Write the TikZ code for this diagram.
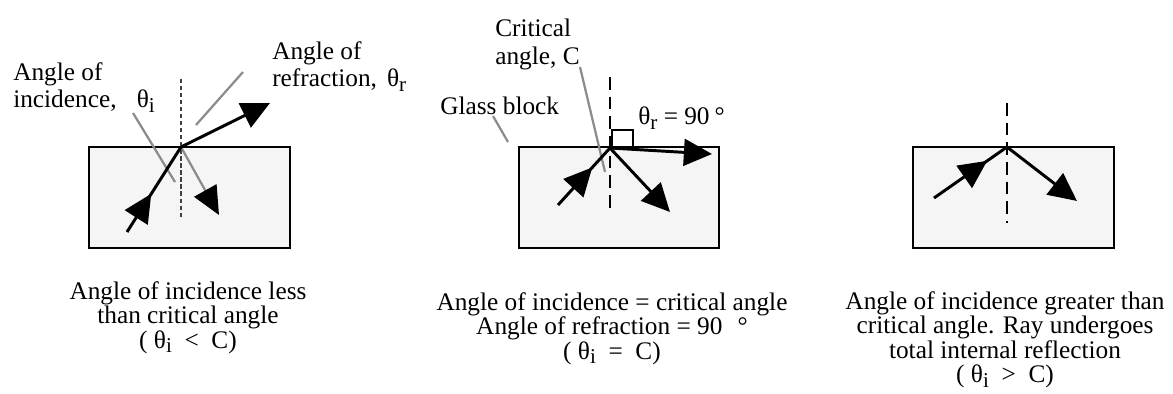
\documentclass[tikz,border=0pt]{standalone}
\usepackage{fontspec}
\setmainfont{Liberation Serif}
\usepackage{tikz}
\usetikzlibrary{arrows.meta, decorations.markings}
\definecolor{glass}{HTML}{F5F5F5}
\definecolor{leadgray}{HTML}{8C8C8C}
\newcommand{\lowsub}[1]{\raisebox{-0.4ex}{\fontsize{15}{15}\selectfont #1}}
\tikzset{
  block/.style={draw=black, line width=1.4pt, fill=glass, inner sep=0pt},
  ray/.style={line width=2.1pt, black},
  tipend/.style={-{Triangle[length=20pt, width=19pt]}},
  midtip/.style={postaction={decorate},
                 decoration={markings, mark=at position #1 with {\arrow{Triangle[length=20pt, width=19pt]}}}},
  normline/.style={line width=1.4pt, dash pattern=on 9pt off 5pt},
  thinnorm/.style={line width=0.8pt, dash pattern=on 3pt off 2pt, black!75},
  leader/.style={leadgray, line width=1.6pt},
  lbl/.style={font=\fontsize{18}{19.5}\selectfont, inner sep=0pt},
  captxt/.style={font=\fontsize{18}{17.4}\selectfont, inner sep=0pt, align=center, anchor=north},
}

\begin{document}
\begin{tikzpicture}[x=0.025cm, y=-0.025cm]
  \useasboundingbox (0,0) rectangle (1173,394);

  % glass blocks
  \node[block, minimum width=5.025cm, minimum height=2.525cm] (blockA) at (189.5,197.5) {};
  \node[block, minimum width=5cm, minimum height=2.525cm] (blockB) at (619,197.5) {};
  \node[block, minimum width=5.025cm, minimum height=2.525cm] (blockC) at (1013.5,197.5) {};

  % less than critical angle
  \coordinate (hitA) at (181,147);
  \coordinate (inA) at (127,232);
  \coordinate (refrA) at (270,103);
  \coordinate (reflA) at (219,215);
  \coordinate (normAtop) at (181,79);
  \coordinate (normAbot) at (181,217);
  \node[lbl, anchor=north west, align=left] (incA) at (13,62) {Angle of\\incidence,\hspace{0.8em}θ\lowsub{i}};
  \node[lbl, anchor=north west, align=left] (refA) at (272,41) {Angle of\\refraction,\hspace{0.4em}θ\lowsub{r}};
  \coordinate (incAleadA) at (133,113);
  \coordinate (incAleadB) at (175,182);
  \coordinate (refAleadA) at (243,72);
  \coordinate (refAleadB) at (196,125);
  \draw[thinnorm] (normAtop) -- (normAbot);
  \draw[leader] (incAleadA) -- (incAleadB);
  \draw[leader] (refAleadA) -- (refAleadB);
  \draw[leader, -{Triangle[length=20pt, width=18pt, color=black, fill=black]}] (hitA) -- (reflA);
  \draw[ray, midtip=0.45] (inA) -- (hitA);
  \draw[ray, tipend] (hitA) -- (refrA);

  % at the critical angle
  \coordinate (hitB) at (610,148);
  \coordinate (inB) at (558,205);
  \coordinate (reflB) at (670,212);
  \coordinate (grazeB) at (712,154);
  \coordinate (normBtop) at (610,77);
  \coordinate (normBbot) at (610,211);
  \node[lbl, anchor=north west, align=left] (critB) at (495,19) {Critical\\angle, C};
  \node[lbl, anchor=base west] (glassB) at (440,115) {Glass block};
  \node[lbl, anchor=base west] (refB) at (638,125) {θ\lowsub{r} = 90\hspace{0.2em}°};
  \coordinate (critBleadA) at (580,67);
  \coordinate (critBleadB) at (605,172);
  \coordinate (glassBleadA) at (493,116);
  \coordinate (glassBleadB) at (508,142);
  \draw[normline] (normBtop) -- (normBbot);
  \draw[line width=1.4pt] (612,147) |- (633,130) -- (633,147);
  \draw[leader] (critBleadA) -- (critBleadB);
  \draw[leader] (glassBleadA) -- (glassBleadB);
  \draw[ray, midtip=0.66] (inB) -- (hitB);
  \draw[ray, tipend] (hitB) -- (reflB);
  \draw[ray, tipend] (hitB) -- (grazeB);

  % total internal reflection
  \coordinate (hitC) at (1007,147);
  \coordinate (inC) at (934,198);
  \coordinate (reflC) at (1077,201);
  \coordinate (normCtop) at (1007,103);
  \coordinate (normCbot) at (1007,223);
  \draw[normline] (normCtop) -- (normCbot);
  \draw[ray, midtip=0.73] (inC) -- (hitC);
  \draw[ray, tipend] (hitC) -- (reflC);

  % captions
  \node[captxt] (capA) at (188,281) {Angle of incidence less\\than critical angle\\( θ\lowsub{i} \ < \ C)};
  \node[captxt] (capB) at (612,292) {Angle of incidence = critical angle\\Angle of refraction = 90\hspace{0.6em}°\\( θ\lowsub{i} \ = \ C)};
  \node[captxt] (capC) at (1005,291) {Angle of incidence greater than\\critical angle. Ray undergoes\\total internal reflection\\( θ\lowsub{i} \ > \ C)};
\end{tikzpicture}
\end{document}
